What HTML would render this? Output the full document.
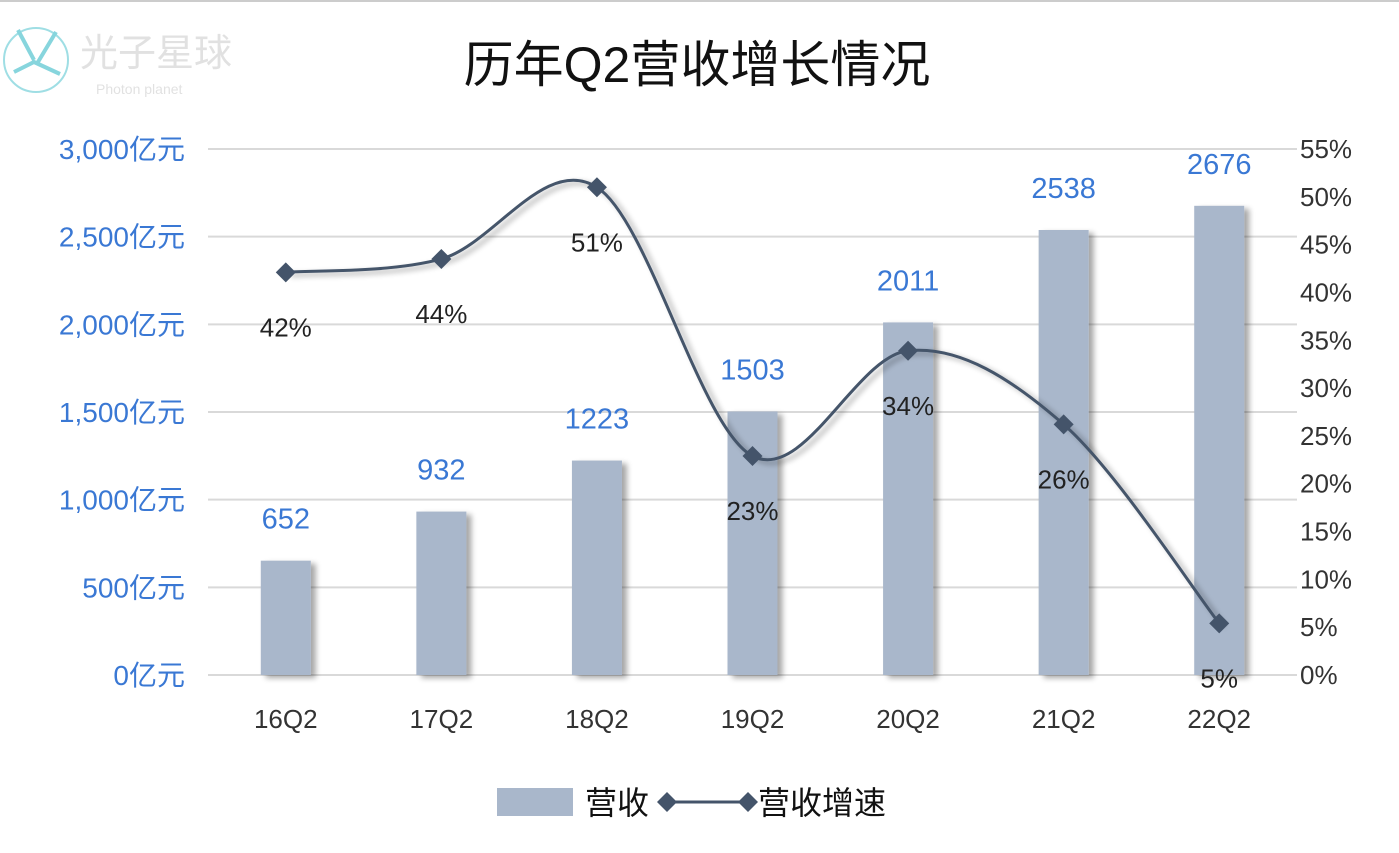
<!DOCTYPE html>
<html><head><meta charset="utf-8">
<style>
body{margin:0;background:#fff;}
svg{display:block;font-family:"Liberation Sans","Noto Sans CJK SC",sans-serif;}
</style></head>
<body>
<svg id="chart" width="1399" height="853" viewBox="0 0 1399 853">
<defs>
<filter id="sh" x="-20%" y="-5%" width="150%" height="120%"><feGaussianBlur in="SourceAlpha" stdDeviation="3"/><feOffset dx="5" dy="3"/><feComponentTransfer><feFuncA type="linear" slope="0.35"/></feComponentTransfer><feMerge><feMergeNode/><feMergeNode in="SourceGraphic"/></feMerge></filter>
</defs>
<line x1="0" y1="1" x2="1399" y2="1" stroke="#ccc" stroke-width="2"/>
<g opacity="0.75">
<circle cx="36" cy="60" r="32" fill="none" stroke="#7fd3dc" stroke-width="2"/>
<path d="M18 30 L34 60 M56 32 L38 62 M14 72 L34 62 L60 74" stroke="#5fc8d2" stroke-width="4" fill="none"/>
<text x="80" y="66" font-size="38" fill="#d8d8d8">光子星球</text>
<text x="96" y="94" font-size="14" fill="#d8d8d8">Photon planet</text>
</g>
<text x="697" y="82" text-anchor="middle" font-size="50" fill="#111">历年Q2营收增长情况</text>
<g id="grid"></g><g id="bars"></g><g id="line"></g><g id="labels"></g>
<g>
<rect x="497" y="788" width="76" height="28" fill="#a9b7cb"/>
<text x="585" y="814" font-size="32" fill="#111">营收</text>
<line x1="667" y1="802" x2="748" y2="802" stroke="#44546a" stroke-width="3"/>
<path d="M667 792 L677 802 L667 812 L657 802Z M748 792 L758 802 L748 812 L738 802Z" fill="#44546a"/>
<text x="758" y="814" font-size="32" fill="#111">营收增速</text>
</g>
</svg>
<script>
const categories=["16Q2","17Q2","18Q2","19Q2","20Q2","21Q2","22Q2"];
const revenue=[652,932,1223,1503,2011,2538,2676];
const growth=[42.1,43.5,51,22.9,33.9,26.2,5.4];
const growthLabels=["42%","44%","51%","23%","34%","26%","5%"];
const leftTicks=[0,500,1000,1500,2000,2500,3000];
const rightTicks=[0,5,10,15,20,25,30,35,40,45,50,55];
const NS="http://www.w3.org/2000/svg";
const X0=208,X1=1297,Y0=675,Y1=149;
const band=(X1-X0)/categories.length;
const xc=i=>X0+band*(i+0.5);
const yL=v=>Y0-(v/3000)*(Y0-Y1);
const yR=v=>Y0-(v/55)*(Y0-Y1);
function mk(tag,attrs,parent,text){const e=document.createElementNS(NS,tag);for(const k in attrs)e.setAttribute(k,attrs[k]);if(text!==undefined)e.textContent=text;document.getElementById(parent).appendChild(e);return e;}
leftTicks.forEach(t=>{
 const l=mk('line',{x1:X0,x2:X1,y1:yL(t),y2:yL(t),stroke:'#d9d9d9','stroke-width':2},'grid');
 
 
 const tx=mk('text',{x:185,y:yL(t)+10,'text-anchor':'end','font-size':28,fill:'#3a78d4'},'labels',t.toLocaleString('en-US')+'亿元');
 
 
});
rightTicks.forEach(t=>{
 const tx=mk('text',{x:1300,y:yR(t)+9,'font-size':26,fill:'#333'},'labels',t+'%');
 
 
});
categories.forEach((c,i)=>{
 const b=mk('rect',{x:xc(i)-25,y:yL(revenue[i]),width:50,height:Y0-yL(revenue[i]),fill:'#a9b7cb',filter:'url(#sh)'},'bars');
 
 
 const v=mk('text',{x:xc(i),y:yL(revenue[i])-32,'text-anchor':'middle','font-size':29,fill:'#3a78d4'},'labels',revenue[i]);
 
 
 const xl=mk('text',{x:xc(i),y:728,'text-anchor':'middle','font-size':26,fill:'#333'},'labels',c);
 
 
});
const pts=growth.map((g,i)=>[xc(i),yR(g)]);
let d='M'+pts[0][0]+' '+pts[0][1];
for(let i=0;i<pts.length-1;i++){
 const p0=pts[Math.max(0,i-1)],p1=pts[i],p2=pts[i+1],p3=pts[Math.min(pts.length-1,i+2)];
 const t=6;
 d+=` C${p1[0]+(p2[0]-p0[0])/t} ${p1[1]+(p2[1]-p0[1])/t} ${p2[0]-(p3[0]-p1[0])/t} ${p2[1]-(p3[1]-p1[1])/t} ${p2[0]} ${p2[1]}`;
}
const ln=mk('path',{d:d,fill:'none',stroke:'#44546a','stroke-width':3,filter:'url(#sh)'},'line');


pts.forEach((p,i)=>{
 const m=mk('path',{d:`M${p[0]} ${p[1]-10} L${p[0]+10} ${p[1]} L${p[0]} ${p[1]+10} L${p[0]-10} ${p[1]}Z`,fill:'#44546a'},'line');
 
 
 const l=mk('text',{x:p[0],y:p[1]+64,'text-anchor':'middle','font-size':26,fill:'#222'},'labels',growthLabels[i]);
 
 
});
</script>
</body></html>
